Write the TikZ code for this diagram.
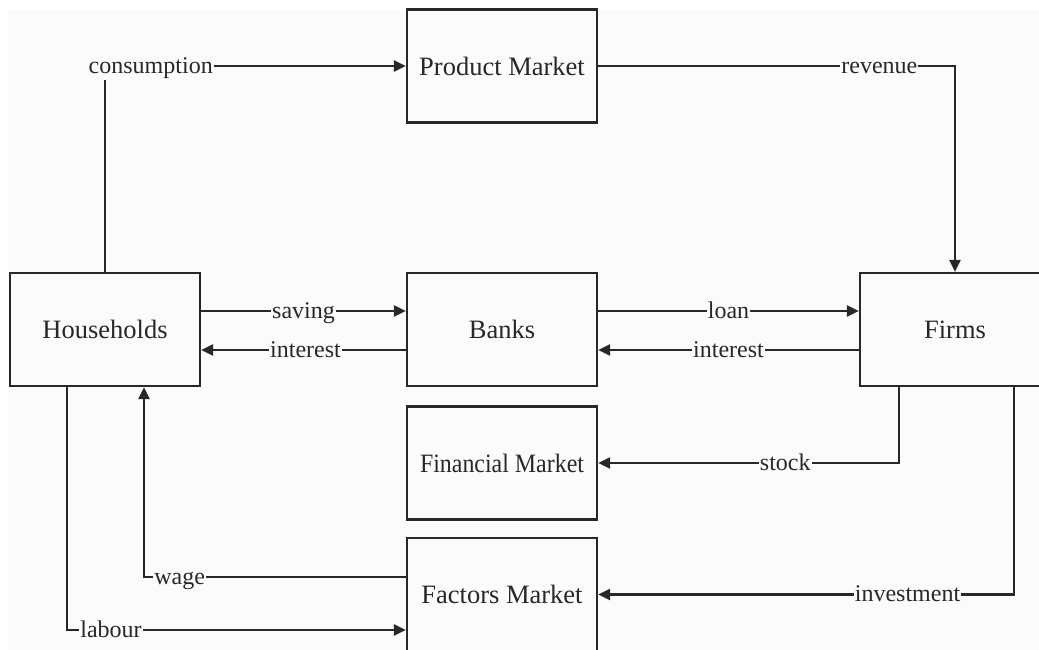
\documentclass[tikz,border=0pt]{standalone}
\usepackage{fontspec}
\usepackage{graphicx}
\setmainfont{Liberation Serif}
\usetikzlibrary{arrows.meta}
\definecolor{ink}{RGB}{40,40,40}
\definecolor{bg}{RGB}{251,251,250}
\begin{document}
\begin{tikzpicture}[x=1pt,y=-1pt,
  box/.style={draw=ink, line width=2.2pt, fill=bg, minimum width=190pt, minimum height=113pt,
    inner sep=0pt, font=\fontsize{26.5}{30}\selectfont, text=ink},
  flow/.style={draw=ink, line width=2.2pt, -{Triangle[length=12pt,width=11pt]}},
  lbl/.style={fill=bg, inner xsep=1pt, inner ysep=1pt, text height=20.5pt, text depth=6pt,
    font=\fontsize{24}{28}\selectfont, text=ink}]
\clip (0,0) rectangle (1039,650);
\fill[white] (0,0) rectangle (1039,650);
\fill[bg] (8,10) rectangle (1039,650);
% boxes
\node[box] (pm) at (502,66) {Product Market};
\node[box] (hh) at (105,329.5) {Households};
\node[box] (bk) at (502,329.5) {Banks};
\node[box] (fi) at (955,329.5) {Firms};
\node[box] (fm) at (502,463) {\resizebox{164pt}{\height}{Financial Market}};
\node[box] (fa) at (502,594.5) {Factors Market};
% helper coordinates
\coordinate (sv) at (0,311);
\coordinate (it) at (0,350);
\coordinate (stk) at (899,0);
\coordinate (inv) at (1014,0);
\coordinate (wg) at (144,577);
\coordinate (lb) at (67,630);
% connectors
\draw[flow] (hh.north) |- node[lbl,pos=0.576]{consumption} (pm.west);
\draw[flow] (pm.east) -| node[lbl,pos=0.394]{revenue} (fi.north);
\draw[flow] (hh.east |- sv) -- node[lbl]{saving} (bk.west |- sv);
\draw[flow] (bk.west |- it) -- node[lbl,pos=0.49]{interest} (hh.east |- it);
\draw[flow] (bk.east |- sv) -- node[lbl]{loan} (fi.west |- sv);
\draw[flow] (fi.west |- it) -- node[lbl]{interest} (bk.east |- it);
\draw[flow] (fi.south -| stk) |- node[lbl,pos=0.689]{stock} (fm.east);
\draw[flow] (fi.south -| inv) |- node[lbl,pos=0.628]{investment} (fa.east);
\draw[flow] (fa.west |- wg) -| node[lbl,pos=0.432]{wage} (hh.south -| wg);
\draw[flow] (hh.south -| lb) |- node[lbl,pos=0.565]{labour} (fa.west |- lb);
\end{tikzpicture}
\end{document}
